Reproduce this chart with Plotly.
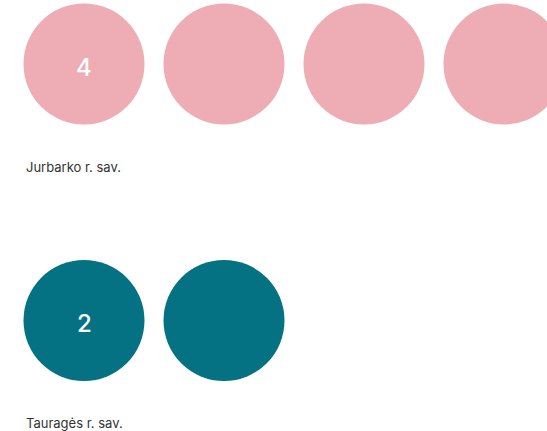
import plotly.graph_objects as go

# Data
categories = ["Jurbarko r. sav.", "Tauragės r. sav."]
values = [4, 2]
colors = ["#EEADB4", "#047282"]

W, H = 547, 431
fig = go.Figure()

n = len(categories)
for i, (cat, v, c) in enumerate(zip(categories, values, colors)):
    row = n - 1 - i
    xs = list(range(v))
    ys = [row] * v
    fig.add_trace(go.Scatter(
        x=xs, y=ys, mode="markers",
        marker=dict(size=121, color=c, line=dict(width=0)),
        hoverinfo="skip", showlegend=False, cliponaxis=False,
    ))
    fig.add_annotation(
        x=0, y=row, xref="x", yref="y",
        text=str(v), showarrow=False, yshift=-3,
        font=dict(family="Inter", size=24, color="white", weight=500),
    )
    fig.add_annotation(
        x=24 / W, xref="paper", xanchor="left",
        y=row - 0.4, yref="y", yanchor="middle",
        text=cat, showarrow=False,
        font=dict(family="Inter", size=13, color="#333333"),
    )

fig.update_xaxes(range=[-84 / 140, (W - 84) / 140], visible=False, fixedrange=True)
fig.update_yaxes(range=[-(H - 320.5) / 256.5, 1 + 64 / 256.5], visible=False, fixedrange=True)
fig.update_layout(
    width=W, height=H,
    margin=dict(l=0, r=0, t=0, b=0),
    paper_bgcolor="white", plot_bgcolor="white",
)
fig.write_html("out.html", config={"displayModeBar": False},
               post_script="document.body.style.margin='0';")
